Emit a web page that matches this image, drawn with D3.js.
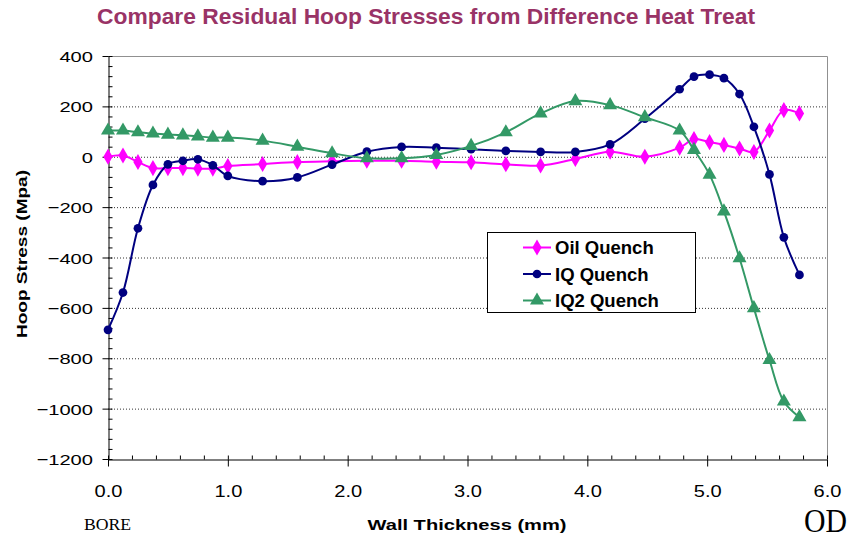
<!DOCTYPE html>
<html>
<head>
<meta charset="utf-8">
<script src="https://cdn.jsdelivr.net/npm/d3@7"></script>
<style>
  html, body { margin: 0; padding: 0; background: #fff; }
  svg { display: block; }
</style>
</head>
<body>
<svg id="chart" width="851" height="545"></svg>
<script>
// Wall-thickness positions (mm) shared by all three quench profiles
const thickness = [0, 0.125, 0.25, 0.375, 0.5, 0.625, 0.75, 0.875, 1.0, 1.29, 1.58, 1.87,
  2.16, 2.45, 2.74, 3.03, 3.32, 3.61, 3.90, 4.19, 4.48, 4.77, 4.89, 5.02, 5.14, 5.27,
  5.39, 5.52, 5.64, 5.77];

// Residual hoop stress (MPa) per heat treatment
const oilQuench = [0, 5, -21, -45, -45, -45, -47, -47, -37, -29, -21, -18, -16, -16, -20,
  -22, -30, -35, -9, 20, 0, 36, 70, 58, 47, 33, 19, 104, 185, 172];
const iqQuench = [-687, -539, -284, -112, -30, -16, -10, -34, -76, -97, -82, -31, 20, 39,
  36, 30, 23, 19, 19, 49, 151, 268, 318, 326, 312, 249, 119, -70, -320, -469];
const iq2Quench = [104, 104, 97, 92, 88, 85, 81, 76, 76, 64, 40, 14, -6, -6, 7, 43, 97,
  172, 221, 205, 157, 104, 27, -71, -217, -403, -601, -807, -972, -1034];

const seriesNames = ["Oil Quench", "IQ Quench", "IQ2 Quench"];
const seriesColors = ["#FF00FF", "#000080", "#339966"];
const seriesShapes = [d3.symbolDiamond, d3.symbolCircle, d3.symbolTriangle];
const seriesSizes = [75, 60, 85];

const xTicks = [0, 1, 2, 3, 4, 5, 6];
const yTicks = [400, 200, 0, -200, -400, -600, -800, -1000, -1200];

const titleText = "Compare Residual Hoop Stresses from Difference Heat Treat";
const xTitle = "Wall Thickness (mm)";
const yTitle = "Hoop Stress (Mpa)";

const SANS = "'Liberation Sans', Arial, sans-serif";
const SERIF = "'Liberation Serif', 'Times New Roman', serif";

const svg = d3.select("#chart").style("font-family", SANS);
const plot = { left: 108, right: 827, top: 56, bottom: 459 };

const x = d3.scaleLinear().domain([0, 6]).range([plot.left, plot.right]);
const y = d3.scaleLinear().domain([-1200, 400]).range([plot.bottom, plot.top]);

// Title
svg.append("text")
  .attr("x", 426).attr("y", 24)
  .attr("text-anchor", "middle")
  .attr("font-size", 22).attr("font-weight", "bold")
  .attr("fill", "#993366")
  .attr("textLength", 658).attr("lengthAdjust", "spacingAndGlyphs")
  .text(titleText);

// Dotted gridlines at major y ticks
svg.append("g").selectAll("line")
  .data(yTicks.filter(v => v > -1200 && v < 400))
  .join("line")
  .attr("x1", plot.left).attr("x2", plot.right)
  .attr("y1", d => y(d) + 0.5).attr("y2", d => y(d) + 0.5)
  .attr("stroke", "#333").attr("stroke-width", 1)
  .attr("stroke-dasharray", "1,2");

// Plot frame (top and right edges)
svg.append("path")
  .attr("d", `M${plot.left},${plot.top + 0.5}H${plot.right + 0.5}V${plot.bottom}`)
  .attr("fill", "none").attr("stroke", "#909090").attr("stroke-width", 1);

// Minor ticks pointing into the plot
svg.append("g")
  .attr("transform", `translate(${plot.left + 0.5},0)`)
  .call(d3.axisLeft(y).tickValues(d3.range(-1200, 401, 40)).tickSize(-4).tickFormat(""))
  .call(g => g.select(".domain").remove())
  .selectAll("line").attr("stroke", "#000");
svg.append("g")
  .attr("transform", `translate(0,${plot.bottom + 0.5})`)
  .call(d3.axisBottom(x).tickValues(d3.range(0, 6.01, 0.2)).tickSize(-4).tickFormat(""))
  .call(g => g.select(".domain").remove())
  .selectAll("line").attr("stroke", "#000");

// Major axes
const yAxis = svg.append("g")
  .attr("transform", `translate(${plot.left + 0.5},0)`)
  .call(d3.axisLeft(y).tickValues(yTicks).tickSizeInner(6).tickSizeOuter(0).tickPadding(10)
    .tickFormat(d3.format("d")));
yAxis.attr("font-family", null).attr("font-size", null);
yAxis.select(".domain").attr("stroke", "#000");
yAxis.selectAll("line").attr("stroke", "#000");
yAxis.selectAll("text")
  .attr("font-size", 15.5).attr("fill", "#000")
  .attr("dy", "0.36em")
  .each(function () {
    const t = d3.select(this);
    const xPos = +t.attr("x");
    t.attr("x", null)
     .attr("transform", `translate(${xPos + 0.5},0) scale(1.3,1)`);
  });

const xAxis = svg.append("g")
  .attr("transform", `translate(0,${plot.bottom + 0.5})`)
  .call(d3.axisBottom(x).tickValues(xTicks).tickSizeInner(7).tickSizeOuter(0).tickPadding(0)
    .tickFormat(d3.format(".1f")));
xAxis.attr("font-family", null).attr("font-size", null);
xAxis.select(".domain").attr("stroke", "#000");
xAxis.selectAll("line").attr("stroke", "#000");
xAxis.selectAll("text")
  .attr("font-size", 17).attr("fill", "#000")
  .attr("y", 37.5).attr("dy", null)
  .attr("textLength", d => d3.format(".1f")(d).length * 9.3)
  .attr("lengthAdjust", "spacingAndGlyphs");

// Axis titles
svg.append("text")
  .attr("x", 467).attr("y", 530)
  .attr("text-anchor", "middle")
  .attr("font-size", 15.5).attr("font-weight", "bold")
  .attr("textLength", 199).attr("lengthAdjust", "spacingAndGlyphs")
  .text(xTitle);

svg.append("text")
  .attr("transform", `translate(26.5,254) rotate(-90)`)
  .attr("text-anchor", "middle")
  .attr("font-size", 14.5).attr("font-weight", "bold")
  .attr("textLength", 168).attr("lengthAdjust", "spacingAndGlyphs")
  .text(yTitle);

// Inner / outer surface markers
svg.append("text")
  .attr("x", 84).attr("y", 530)
  .style("font-family", SERIF)
  .attr("font-size", 17.7)
  .text("BORE");
svg.append("text")
  .attr("x", 804).attr("y", 531.5)
  .style("font-family", SERIF)
  .attr("font-size", 33)
  .attr("textLength", 43).attr("lengthAdjust", "spacingAndGlyphs")
  .text("OD");

// Series
const seriesData = [oilQuench, iqQuench, iq2Quench];
const line = d3.line()
  .x(d => x(d[0])).y(d => y(d[1]))
  .curve(d3.curveCatmullRom.alpha(0.5));

seriesData.forEach((vals, i) => {
  const pts = thickness.map((t, k) => [t, vals[k]]);
  const g = svg.append("g");
  g.append("path")
    .datum(pts)
    .attr("d", line)
    .attr("fill", "none")
    .attr("stroke", seriesColors[i])
    .attr("stroke-width", 2);
  g.selectAll("path.marker")
    .data(pts)
    .join("path")
    .attr("class", "marker")
    .attr("transform", d => `translate(${x(d[0])},${y(d[1])})`)
    .attr("d", d3.symbol().type(seriesShapes[i]).size(seriesSizes[i]))
    .attr("fill", seriesColors[i]);
});

// Legend
const legend = svg.append("g");
legend.append("rect")
  .attr("x", 487.5).attr("y", 232.5).attr("width", 208).attr("height", 80)
  .attr("fill", "#fff").attr("stroke", "#000").attr("stroke-width", 1);
seriesNames.forEach((name, i) => {
  const cy = 247.5 + i * 26.5;
  legend.append("line")
    .attr("x1", 523).attr("x2", 551).attr("y1", cy).attr("y2", cy)
    .attr("stroke", seriesColors[i]).attr("stroke-width", 2);
  legend.append("path")
    .attr("transform", `translate(537,${cy})`)
    .attr("d", d3.symbol().type(seriesShapes[i]).size(seriesSizes[i]))
    .attr("fill", seriesColors[i]);
  legend.append("text")
    .attr("x", 555).attr("y", cy + 6.5)
    .attr("font-size", 18.5).attr("font-weight", "bold")
    .text(name);
});
</script>
</body>
</html>
